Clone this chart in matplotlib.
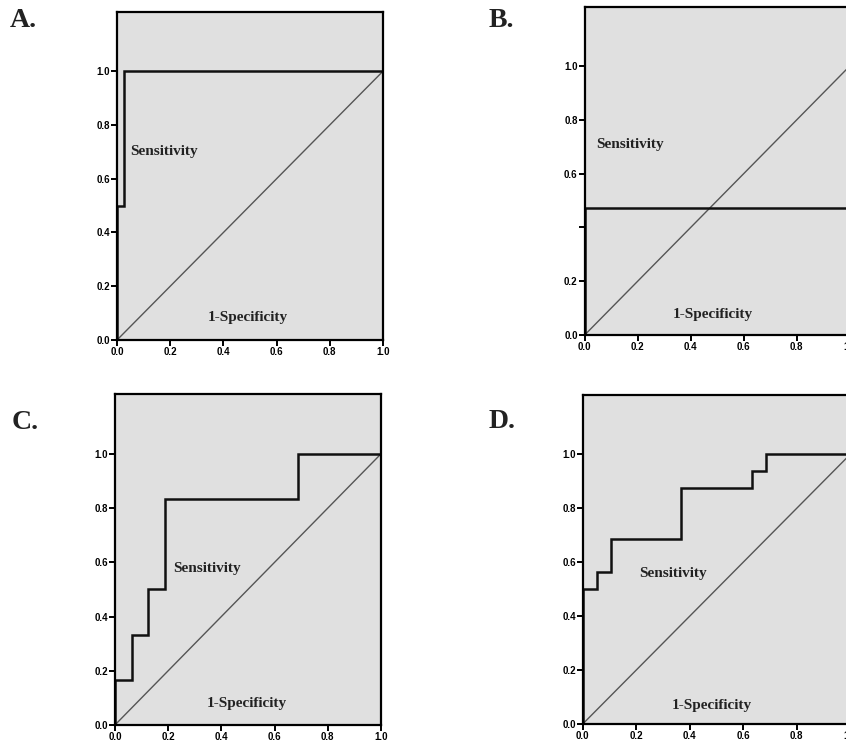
import matplotlib
matplotlib.use("Agg")
import matplotlib.pyplot as plt

# ROC curve corner points (1-specificity, sensitivity) for each panel
fpr_a = [0.0, 0.0, 0.027, 0.027, 1.0]
tpr_a = [0.0, 0.5, 0.5, 1.0, 1.0]

fpr_b = [0.0, 0.0, 1.0, 1.0]
tpr_b = [0.0, 0.473, 0.473, 1.0]

fpr_c = [0.0, 0.0, 0.0625, 0.0625, 0.125, 0.125, 0.1875, 0.1875, 0.6875, 0.6875, 1.0]
tpr_c = [0.0, 0.167, 0.167, 0.333, 0.333, 0.5, 0.5, 0.833, 0.833, 1.0, 1.0]

fpr_d = [0.0, 0.0, 0.053, 0.053, 0.105, 0.105, 0.368, 0.368, 0.632, 0.632, 0.684, 0.684, 1.0]
tpr_d = [0.0, 0.5, 0.5, 0.5625, 0.5625, 0.6875, 0.6875, 0.875, 0.875, 0.9375, 0.9375, 1.0, 1.0]

tick_values = [0.0, 0.2, 0.4, 0.6, 0.8, 1.0]
tick_labels = ["0.0", "0.2", "0.4", "0.6", "0.8", "1.0"]
ytick_labels_b = ["0.0", "0.2", "", "0.6", "0.8", "1.0"]

SERIF = ["Liberation Serif", "DejaVu Serif"]
SANS = ["Liberation Sans", "DejaVu Sans"]

fig = plt.figure(figsize=(8.46, 7.40), dpi=100)

panels = [
    # letter, axes rect, letter pos, fpr, tpr, ylabels, sens pos, spec pos
    ("A.", [0.1383, 0.5405, 0.3144, 0.4432], (0.012, 0.963), fpr_a, tpr_a, tick_labels, (0.05, 0.70), (0.49, 0.085)),
    ("B.", [0.6911, 0.5473, 0.3132, 0.4432], (0.577, 0.963), fpr_b, tpr_b, ytick_labels_b, (0.045, 0.71), (0.484, 0.078)),
    ("C.", [0.1359, 0.0203, 0.3144, 0.4469], (0.014, 0.420), fpr_c, tpr_c, tick_labels, (0.22, 0.576), (0.495, 0.08)),
    ("D.", [0.6888, 0.0216, 0.3162, 0.4446], (0.577, 0.421), fpr_d, tpr_d, tick_labels, (0.21, 0.558), (0.482, 0.07)),
]

for letter, rect, lpos, fpr, tpr, ylabels, sens, spec in panels:
    ax = fig.add_axes(rect)
    ax.set_facecolor("#e0e0e0")

    ax.plot([0, 1], [0, 1], color="#555555", linewidth=1.0)
    ax.plot(fpr, tpr, color="#111111", linewidth=1.8, solid_joinstyle="miter")

    ax.set_xlim(0, 1)
    ax.set_ylim(0, 1.22)
    ax.set_xticks(tick_values)
    ax.set_xticklabels(tick_labels)
    ax.set_yticks(tick_values)
    ax.set_yticklabels(ylabels)

    for lab in ax.get_xticklabels() + ax.get_yticklabels():
        lab.set_family(SANS)
        lab.set_fontweight("bold")
        lab.set_fontsize(7)

    ax.tick_params(direction="out", length=4, width=1.4, pad=1, color="black")
    for spine in ax.spines.values():
        spine.set_linewidth(1.6)
        spine.set_color("black")

    ax.text(sens[0], sens[1], "Sensitivity", family=SERIF, fontweight="bold",
            fontsize=11, ha="left", va="center", color="#222222")
    ax.text(spec[0], spec[1], "1-Specificity", family=SERIF, fontweight="bold",
            fontsize=11, ha="center", va="center", color="#222222")

    fig.text(lpos[0], lpos[1], letter, family=SERIF, fontweight="bold",
             fontsize=20, ha="left", va="baseline", color="#222222")

fig.savefig("out.png", dpi=100)
plt.close(fig)
